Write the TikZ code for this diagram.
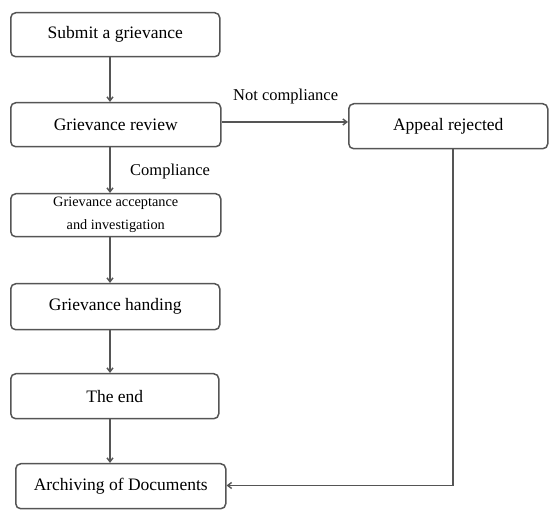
\documentclass[tikz,border=0pt]{standalone}
\usepackage{fontspec}
\setmainfont{Liberation Serif}
\usetikzlibrary{arrows.meta}
\definecolor{ln}{HTML}{555555}
\begin{document}
\begin{tikzpicture}[x=1pt,y=-1pt,
  box/.style={draw=ln,line width=1.5pt,rounded corners=5pt,inner sep=0pt,anchor=north west,font=\fontsize{17.5}{21}\selectfont},
  arr/.style={draw=ln,line width=1.4pt,-{Straight Barb[length=4pt,width=6pt]}},
  lbl/.style={font=\fontsize{16.5}{19}\selectfont,inner sep=0pt}]
\useasboundingbox (0,0) rectangle (550,510);
\node[box,minimum width=209pt,minimum height=44pt] (b1) at (10,12) {Submit a grievance};
\node[box,minimum width=210pt,minimum height=44pt] (b2) at (10,102) {Grievance review};
\node[box,minimum width=210pt,minimum height=43pt,align=center,font=\fontsize{14.3}{23}\selectfont] (b3) at (10,193) {Grievance acceptance\\and investigation};
\node[box,minimum width=209pt,minimum height=46pt] (b4) at (10,283) {Grievance handing};
\node[box,minimum width=208pt,minimum height=45pt] (b5) at (10,373) {The end};
\node[box,minimum width=210pt,minimum height=45pt] (b6) at (15,463) {Archiving of Documents};
\node[box,minimum width=199pt,minimum height=45pt] (ar) at (348,103) {Appeal rejected};
\coordinate (c1) at (453,485.5);
\draw[arr] (b1.south -| 110,0) -- (b2.north -| 110,0);
\draw[arr] (b2.south -| 110,0) -- (b3.north -| 110,0);
\draw[arr] (b3.south -| 110,0) -- (b4.north -| 110,0);
\draw[arr] (b4.south -| 110,0) -- (b5.north -| 110,0);
\draw[arr] (b5.south -| 110,0) -- (b6.north -| 110,0);
\draw[arr] (b2.east |- 0,122) -- (ar.west |- 0,122);
\draw[arr] (ar.south -| c1) -- (c1) -- (b6.east |- c1);
\node[lbl,anchor=west] (nc) at (233,97) {Not compliance};
\node[lbl,anchor=west] (cp) at (130,172) {Compliance};
\end{tikzpicture}
\end{document}
